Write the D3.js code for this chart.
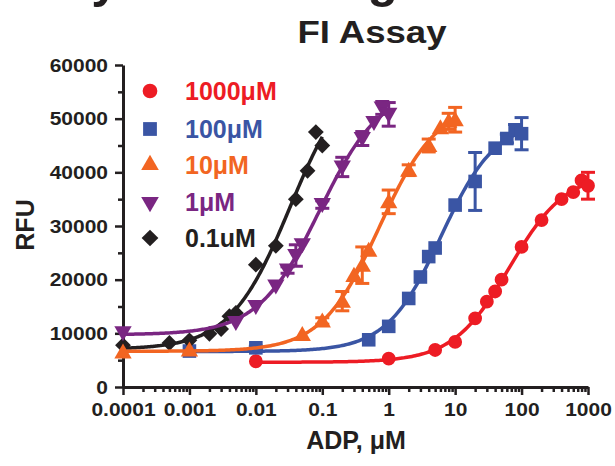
<!DOCTYPE html>
<html><head><meta charset="utf-8">
<script src="https://cdn.jsdelivr.net/npm/d3@7"></script>
<style>
html,body{margin:0;padding:0;background:#fff;}
svg{display:block;}
</style></head>
<body>
<svg id="chart" width="615" height="466"></svg>
<script>
// ---- data ----
const seriesNames = ["1000\u03bcM", "100\u03bcM", "10\u03bcM", "1\u03bcM", "0.1uM"];
const seriesColors = ["#ed1c24", "#3a55a4", "#f26522", "#7a2682", "#231f20"];

const x1000 = [0.01, 1, 5, 10, 20, 30, 40, 50, 100, 200, 400, 600, 800, 1000];
const y1000 = [4800, 5300, 6900, 8400, 12800, 15900, 17800, 20000, 26100, 31100, 35000, 36300, 38500, 37500];
const e1000 = [0, 0, 0, 0, 0, 0, 0, 0, 0, 0, 0, 0, 0, 2500];

const x100 = [0.001, 0.01, 0.5, 1, 2, 3, 4, 5, 10, 20, 40, 60, 80, 100];
const y100 = [6700, 7300, 8800, 11300, 16500, 20500, 24300, 25900, 33900, 38300, 44500, 46300, 47900, 47200];
const e100 = [0, 300, 0, 0, 0, 0, 0, 0, 0, 5400, 0, 800, 1000, 3000];

const x10 = [0.0001, 0.001, 0.05, 0.1, 0.2, 0.3, 0.4, 0.5, 1, 2, 4, 6, 8, 10];
const y10 = [6500, 6900, 9800, 12300, 16000, 20800, 22700, 25500, 34500, 40400, 45000, 48300, 49500, 49800];
const e10 = [0, 0, 0, 600, 1800, 0, 3400, 0, 2200, 1000, 1200, 0, 1500, 2300];

const x1 = [0.0001, 0.005, 0.01, 0.02, 0.03, 0.04, 0.05, 0.1, 0.2, 0.4, 0.6, 0.8, 1];
const y1 = [10100, 12000, 15000, 18800, 21800, 24500, 26500, 34000, 41000, 46300, 49300, 52000, 50800];
const e1 = [0, 0, 0, 0, 600, 2000, 0, 700, 1800, 1300, 0, 1200, 2200];

const x01 = [0.0001, 0.0005, 0.001, 0.002, 0.003, 0.004, 0.005, 0.01, 0.02, 0.04, 0.06, 0.08, 0.1];
const y01 = [7800, 8200, 8700, 9900, 10800, 13200, 13800, 22800, 26300, 35000, 40300, 47500, 45000];
const e01 = [0, 0, 0, 0, 0, 0, 0, 0, 0, 0, 0, 0, 0];

const xTickValues = [0.0001, 0.001, 0.01, 0.1, 1, 10, 100, 1000];
const xTickLabels = ["0.0001", "0.001", "0.01", "0.1", "1", "10", "100", "1000"];
const yTickValues = [0, 10000, 20000, 30000, 40000, 50000, 60000];
const yTickLabels = ["0", "10000", "20000", "30000", "40000", "50000", "60000"];

const chartTitle = "FI Assay";
const xTitle = "ADP, \u03bcM";
const yTitle = "RFU";

// ---- build ----
const svg = d3.select("#chart");
const ink = "#231f20";
const FONT = "'Liberation Sans', Arial, Helvetica, sans-serif";
const SX = 1.2; // horizontal stretch of tick labels

const x = d3.scaleLog().domain([1e-4, 1e3]).range([123, 588]);
const y = d3.scaleLinear().domain([0, 60000]).range([387, 65]);

// sigmoidal dose-response least-squares fit of each series (grid search on logEC50 & Hill slope,
// bottom/top solved linearly) - reproduces the fitted curves of the original figure
function fitSigmoid(xs, ys) {
  const lx = xs.map(Math.log10);
  const lo = d3.min(lx) - 1, hi = d3.max(lx) + 1.5;
  let best = null;
  for (let c = lo; c <= hi; c += 0.01) {
    for (let h = 0.3; h <= 3; h += 0.02) {
      const f = lx.map(v => 1 / (1 + Math.pow(10, (c - v) * h)));
      const n = f.length;
      const sf = d3.sum(f), sy = d3.sum(ys);
      const sff = d3.sum(f, v => v * v), sfy = d3.sum(f, (v, i) => v * ys[i]);
      const den = n * sff - sf * sf;
      if (Math.abs(den) < 1e-9) continue;
      const S = (n * sfy - sf * sy) / den;
      const B = (sy - S * sf) / n;
      const sse = d3.sum(f, (v, i) => (B + S * v - ys[i]) ** 2);
      if (!best || sse < best.sse) best = {c, h, B, S, sse};
    }
  }
  return best;
}

// cut-off heading above (only descenders visible)
svg.append("text").attr("x", 119).attr("y", -3).attr("text-anchor", "end")
  .attr("font-family", FONT).attr("font-weight", "bold").attr("font-size", 50)
  .attr("fill", ink).text("Sensitivity");
svg.append("text").attr("x", 398).attr("y", -3).attr("text-anchor", "end")
  .attr("font-family", FONT).attr("font-weight", "bold").attr("font-size", 50)
  .attr("fill", ink).text("Tuning");

// title
svg.append("text").attr("transform", "translate(372,43) scale(1.18,1)")
  .attr("text-anchor", "middle").attr("font-family", FONT).attr("font-weight", "bold")
  .attr("font-size", 31).attr("fill", ink).text(chartTitle);

// y axis
const yMinor = d3.range(5000, 60000, 10000);
svg.append("g").attr("transform", "translate(123,0)")
  .call(d3.axisLeft(y).tickValues(yMinor).tickSize(5).tickFormat(""))
  .call(g => g.select(".domain").remove())
  .call(g => g.selectAll("line").attr("stroke", ink).attr("stroke-width", 2.5));
const yAx = svg.append("g").attr("transform", "translate(123,0)")
  .call(d3.axisLeft(y).tickValues(yTickValues).tickSize(8).tickSizeOuter(0)
    .tickFormat((d, i) => yTickLabels[i]));
yAx.select(".domain").attr("stroke", ink).attr("stroke-width", 3);
yAx.selectAll("line").attr("stroke", ink).attr("stroke-width", 2.5);
yAx.selectAll("text").attr("x", -15 / SX).attr("dy", "0.36em")
  .attr("transform", `scale(${SX},1)`)
  .attr("font-family", FONT).attr("font-weight", "bold").attr("font-size", 17.5).attr("fill", ink);

// x axis
const xMinor = [];
for (let e = -4; e < 3; e++) for (let m = 2; m <= 9; m++) xMinor.push(m * Math.pow(10, e));
svg.append("g").attr("transform", "translate(0,387)")
  .call(d3.axisBottom(x).tickValues(xMinor).tickSize(5).tickFormat(""))
  .call(g => g.select(".domain").remove())
  .call(g => g.selectAll("line").attr("stroke", ink).attr("stroke-width", 2.5));
const xAx = svg.append("g").attr("transform", "translate(0,387)")
  .call(d3.axisBottom(x).tickValues(xTickValues).tickSize(8).tickSizeOuter(0)
    .tickFormat((d, i) => xTickLabels[i]));
xAx.select(".domain").attr("stroke", ink).attr("stroke-width", 3);
xAx.selectAll("line").attr("stroke", ink).attr("stroke-width", 2.5);
xAx.selectAll("text").attr("y", 29).attr("dy", 0)
  .attr("transform", `scale(${SX},1)`)
  .attr("font-family", FONT).attr("font-weight", "bold").attr("font-size", 17.5).attr("fill", ink);

// axis titles
svg.append("text").attr("x", 356).attr("y", 449).attr("text-anchor", "middle")
  .attr("font-family", FONT).attr("font-weight", "bold").attr("font-size", 25)
  .attr("fill", ink).text(xTitle);
svg.append("text").attr("transform", "translate(34,225) rotate(-90)").attr("text-anchor", "middle")
  .attr("font-family", FONT).attr("font-weight", "bold").attr("font-size", 25)
  .attr("fill", ink).text(yTitle);

// series
const symbols = [
  {type: d3.symbolCircle, size: 150, rot: 0},
  {type: d3.symbolSquare, size: 185, rot: 0},
  {type: d3.symbolTriangle, size: 130, rot: 0},
  {type: d3.symbolTriangle, size: 130, rot: 180},
  {type: d3.symbolSquare, size: 125, rot: 45}
];
const series = [
  {xs: x1000, ys: y1000, es: e1000},
  {xs: x100, ys: y100, es: e100},
  {xs: x10, ys: y10, es: e10},
  {xs: x1, ys: y1, es: e1},
  {xs: x01, ys: y01, es: e01}
];
const drawOrder = [0, 1, 4, 3, 2];
const line = d3.line().x(d => x(d[0])).y(d => y(d[1]));

drawOrder.forEach(si => {
  const s = series[si];
  const col = seriesColors[si];
  const pts = s.xs.map((v, i) => [v, s.ys[i], s.es[i]]);
  const g = svg.append("g");
  const fit = fitSigmoid(s.xs, s.ys);
  const lmin = Math.log10(d3.min(s.xs)), lmax = Math.log10(d3.max(s.xs));
  const curve = d3.range(0, 201).map(k => {
    const lv = lmin + (lmax - lmin) * k / 200;
    return [Math.pow(10, lv), fit.B + fit.S / (1 + Math.pow(10, (fit.c - lv) * fit.h))];
  });
  g.append("path").datum(curve).attr("d", line).attr("fill", "none")
    .attr("stroke", col).attr("stroke-width", 3.5).attr("stroke-linejoin", "round");
  const eb = g.selectAll(".eb").data(pts.filter(p => p[2] > 0)).enter().append("g");
  eb.append("line").attr("x1", d => x(d[0])).attr("x2", d => x(d[0]))
    .attr("y1", d => y(d[1] - d[2])).attr("y2", d => y(d[1] + d[2]))
    .attr("stroke", col).attr("stroke-width", 3);
  [-1, 1].forEach(sg => {
    eb.append("line").attr("x1", d => x(d[0]) - 7).attr("x2", d => x(d[0]) + 7)
      .attr("y1", d => y(d[1] + sg * d[2])).attr("y2", d => y(d[1] + sg * d[2]))
      .attr("stroke", col).attr("stroke-width", 3);
  });
  const sym = symbols[si];
  const yOff = sym.type === d3.symbolTriangle ? (sym.rot ? -1.5 : 1.5) : 0;
  g.selectAll(".m").data(pts).enter().append("path")
    .attr("d", d3.symbol().type(sym.type).size(sym.size))
    .attr("transform", d => `translate(${x(d[0])},${y(d[1]) + yOff}) rotate(${sym.rot})`)
    .attr("fill", col);
});

// legend
const legY = [91, 129, 165, 202, 238];
const legSym = [
  {type: d3.symbolCircle, size: 170, rot: 0},
  {type: d3.symbolSquare, size: 190, rot: 0},
  {type: d3.symbolTriangle, size: 135, rot: 0},
  {type: d3.symbolTriangle, size: 135, rot: 180},
  {type: d3.symbolSquare, size: 140, rot: 45}
];
seriesNames.forEach((name, i) => {
  const sym = legSym[i];
  svg.append("path").attr("d", d3.symbol().type(sym.type).size(sym.size))
    .attr("transform", `translate(150,${legY[i]}) rotate(${sym.rot})`)
    .attr("fill", seriesColors[i]);
  svg.append("text").attr("x", 185).attr("y", legY[i] + 9)
    .attr("font-family", FONT).attr("font-weight", "bold").attr("font-size", 25)
    .attr("fill", seriesColors[i]).text(name);
});
</script>
</body></html>
